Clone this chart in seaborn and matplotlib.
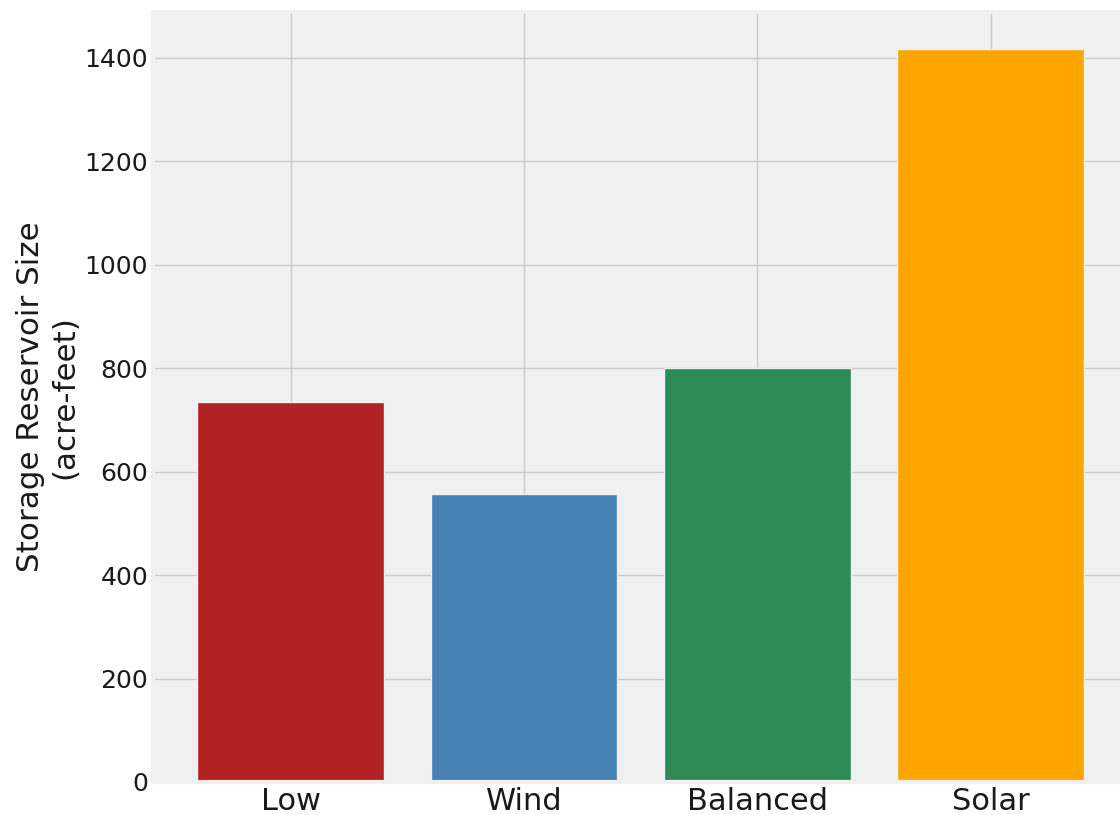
import matplotlib
matplotlib.use("Agg")
import pandas as pd
import seaborn as sns
from matplotlib import pyplot as plt

# values
scenarios = ["Low", "Wind", "Balanced", "Solar"]
storage = [735, 557, 800, 1418]
bar_colors = ["firebrick", "steelblue", "seagreen", "orange"]

df = pd.DataFrame({"scenario": scenarios, "storage": storage})

plt.style.use("fivethirtyeight")
plt.rcParams["figure.facecolor"] = "white"
plt.rcParams["savefig.facecolor"] = "white"
plt.rcParams["font.family"] = ["DejaVu Sans"]

fig = plt.figure(figsize=(11.2, 8.15), dpi=100)
ax = fig.add_axes([0.1366, 0.0405, 0.871, 0.9448])

sns.barplot(data=df, x="scenario", y="storage", hue="scenario",
            palette=bar_colors, legend=False, width=0.8, saturation=1,
            edgecolor="#f0f0f0", linewidth=1, ax=ax)

ax.set_xlim(-0.59, 3.59)
ax.xaxis.grid(True)
ax.yaxis.grid(True)
ax.set_axisbelow(True)
ax.set_xlabel("")
ax.set_ylabel("Storage Reservoir Size\n(acre-feet)", fontsize=22.3, color="#1a1a1a")
ax.tick_params(axis="x", labelsize=22, labelcolor="#1a1a1a")
ax.tick_params(axis="y", labelsize=18, labelcolor="#1a1a1a")

plt.savefig("out.png", dpi=100)
plt.close()
